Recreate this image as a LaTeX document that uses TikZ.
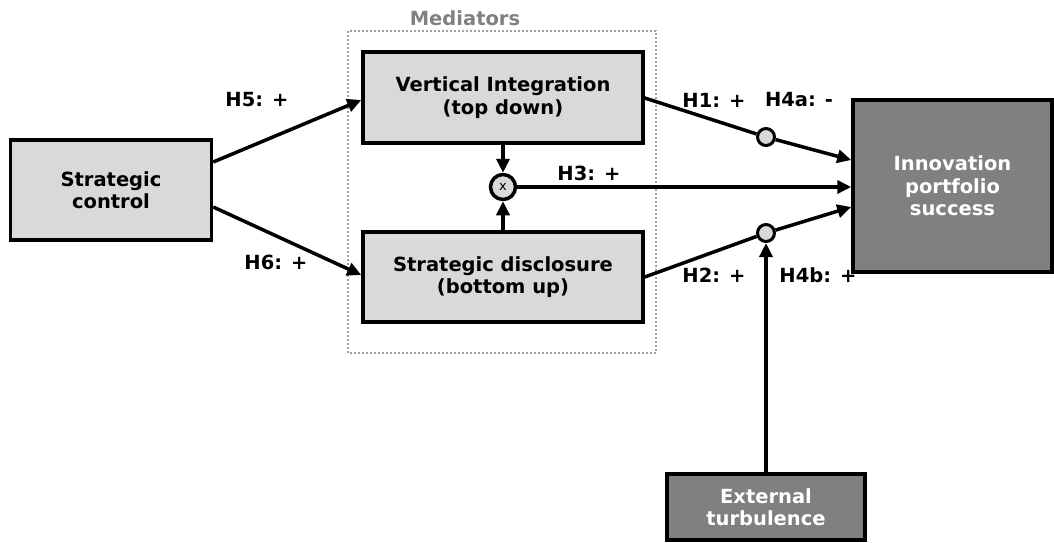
\documentclass[tikz,border=0pt]{standalone}
\usepackage{fontspec}
\setmainfont{DejaVu Sans}
\usetikzlibrary{positioning, arrows.meta}

\definecolor{boxlight}{HTML}{D9D9D9}
\definecolor{boxdark}{HTML}{808080}

\tikzset{
    lbl/.style={font=\bfseries\fontsize{19.5pt}{22.5pt}\selectfont, align=center, inner sep=0pt},
    lightbox/.style={lbl, draw, line width=3.5pt, fill=boxlight},
    darkbox/.style={lbl, draw, line width=3.5pt, fill=boxdark, text=white},
    arr/.style={line width=3.5pt, -{Triangle[length=14pt,width=13pt]}},
    link/.style={line width=3.5pt},
    joint/.style={circle, draw, line width=3pt, fill=boxlight, minimum size=17pt, inner sep=0pt}
}

\begin{document}
\begin{tikzpicture}[x=1pt, y=-1pt]
    \useasboundingbox (0,0) rectangle (1054,542);

    % --- Mediators frame ---
    \draw[gray!75, line width=2.2pt, dash pattern=on 2pt off 2pt] (348,31) rectangle (656,353);
    \node[lbl, text=boxdark] (medlbl) at (465,18) {Mediators};

    % --- Boxes ---
    \node[lightbox, minimum width=201pt, minimum height=100pt] (control) at (111,190) {Strategic\\control};
    \node[lightbox, minimum width=280pt, minimum height=91pt] (vint) at (503,97.5) {Vertical Integration\\(top down)};
    \node[lightbox, minimum width=280pt, minimum height=90pt] (sdis) at (503,277) {Strategic disclosure\\(bottom up)};
    \node[darkbox, minimum width=199pt, minimum height=172pt] (innov) at (952.5,186) {Innovation\\portfolio\\success};
    \node[darkbox, minimum width=198pt, minimum height=66pt] (turb) at (766,507) {External\\turbulence};

    % --- Interaction and moderator points ---
    \node[joint, minimum size=25pt, line width=3.5pt] (mult) at (503,187) {\mdseries\fontsize{13pt}{13pt}\selectfont x};
    \node[joint] (jtop) at (766,137) {};
    \node[joint] (jbot) at (766,233) {};

    % --- Paths ---
    \draw[arr] ([yshift=28pt]control.east) -- ([yshift=-2.5pt]vint.west);
    \draw[arr] ([yshift=-17pt]control.east) -- ([yshift=2pt]sdis.west);
    \draw[link] ([yshift=-0.5pt]vint.east) -- (jtop);
    \draw[arr] (jtop) -- ([yshift=26pt]innov.west);
    \draw[link] (sdis.east) -- (jbot);
    \draw[arr] (jbot) -- ([yshift=-21pt]innov.west);
    \draw[arr] (vint.south) -- (mult);
    \draw[arr] (sdis.north) -- (mult);
    \draw[arr] (mult) -- (mult -| innov.west);
    \draw[arr] (turb.north) -- (jbot);

    % --- Hypotheses ---
    \node[lbl] (h5) at (257,100) {H5: +};
    \node[lbl] (h6) at (276,262) {H6: +};
    \node[lbl] (h3) at (589,173) {H3: +};
    \node[lbl] (h1) at (714,100) {H1: +};
    \node[lbl] (h4a) at (799,100) {H4a: -};
    \node[lbl] (h2) at (714,275) {H2: +};
    \node[lbl] (h4b) at (818,275) {H4b: +};
\end{tikzpicture}
\end{document}
